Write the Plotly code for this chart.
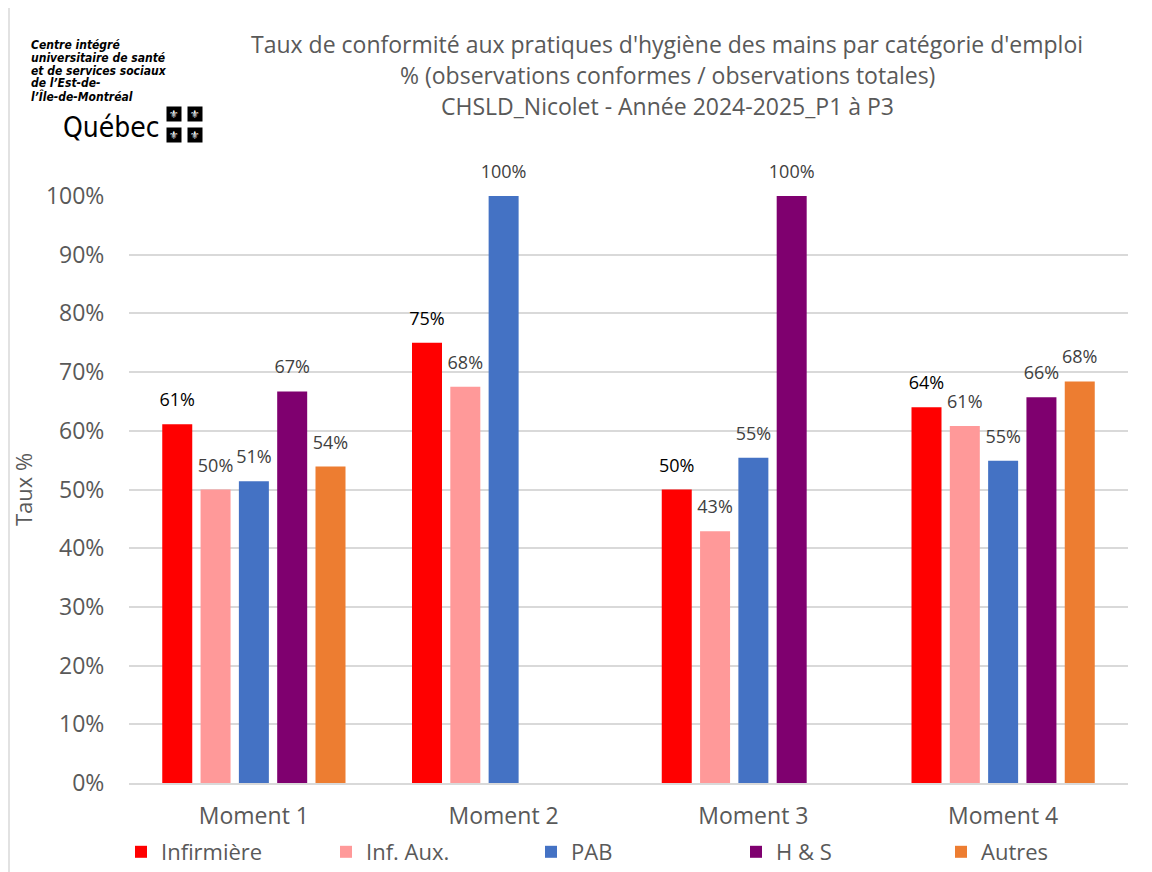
import plotly.graph_objects as go

# Données
moments = ['Moment 1', 'Moment 2', 'Moment 3', 'Moment 4']
infirmiere = [0.611, 0.750, 0.500, 0.640]
inf_aux = [0.500, 0.675, 0.429, 0.608]
pab = [0.514, 1.000, 0.554, 0.549]
h_s = [0.667, None, 1.000, 0.657]
autres = [0.539, None, None, 0.684]

series = [
    ('Infirmière', infirmiere, '#FF0000', '#000000'),
    ('Inf. Aux.', inf_aux, '#FF9999', '#404040'),
    ('PAB', pab, '#4472C4', '#404040'),
    ('H & S', h_s, '#7F006F', '#404040'),
    ('Autres', autres, '#ED7D31', '#404040'),
]

title_lines = [
    "Taux de conformité aux pratiques d'hygiène des mains par catégorie d'emploi",
    "% (observations conformes / observations totales)",
    "CHSLD_Nicolet - Année 2024-2025_P1 à P3",
]
logo_lines = [
    "Centre intégré",
    "universitaire de santé",
    "et de services sociaux",
    "de l’Est-de-",
    "l’Île-de-Montréal",
]

FONT = 'Open Sans, Lato, sans-serif'
LOGO_FONT = 'Liberation Sans Narrow, DejaVu Sans Condensed, sans-serif'
GREY = '#595959'

# la page html ajoute 8px de marge au body
OFF = 8
W, H = 1152 - OFF, 872 - OFF
# zone de tracé (pixels de l'écran)
SL, SR, ST, SB = 129, 1128, 196, 783


def px_x(p):
    return (p - SL) / (SR - SL)


def px_y(p):
    return (SB - p) / (SB - ST)


fig = go.Figure()

for name, vals, color, lab_color in series:
    fig.add_trace(go.Bar(
        x=moments, y=vals, name=name,
        marker=dict(color=color, line=dict(width=0)),
        offsetgroup=name,
    ))

# étiquettes de données (groupées comme les barres)
for name, vals, color, lab_color in series:
    fig.add_trace(go.Scatter(
        x=moments, y=vals, name=name,
        mode='markers+text',
        marker=dict(size=20, color='rgba(0,0,0,0)'),
        text=[None if v is None else f'{round(v * 100)}%' for v in vals],
        textposition='top center',
        textfont=dict(family=FONT, size=18, color=lab_color),
        offsetgroup=name,
        showlegend=False,
        cliponaxis=False,
        hoverinfo='skip',
    ))

annotations = []
title_y = [44, 75, 106]
for line, y in zip(title_lines, title_y):
    annotations.append(dict(
        text=line, xref='paper', yref='paper',
        x=px_x(667), y=px_y(y), xanchor='center', yanchor='middle',
        showarrow=False, font=dict(family=FONT, size=23, color=GREY),
    ))

for i, line in enumerate(logo_lines):
    annotations.append(dict(
        text=line, xref='paper', yref='paper',
        x=px_x(29), y=px_y(45 + i * 12.8), xanchor='left', yanchor='middle',
        showarrow=False,
        font=dict(family=LOGO_FONT, size=12, color='#000000',
                  weight='bold', style='italic'),
    ))

annotations.append(dict(
    text='Québec', xref='paper', yref='paper',
    x=px_x(61), y=px_y(128), xanchor='left', yanchor='middle',
    showarrow=False,
    font=dict(family=LOGO_FONT, size=28, color='#000000'),
))

for cx in (174, 195):
    for cy in (114, 135):
        annotations.append(dict(
            text='⚜', xref='paper', yref='paper',
            x=px_x(cx), y=px_y(cy), xanchor='center', yanchor='middle',
            showarrow=False, bgcolor='#000000', width=14, height=14,
            borderpad=0, font=dict(family='DejaVu Sans', size=11, color='#FFFFFF'),
        ))

fig.update_layout(
    width=W, height=H,
    margin=dict(l=SL - OFF, r=W - (SR - OFF), t=ST - OFF, b=H - (SB - OFF),
                autoexpand=False),
    paper_bgcolor='white', plot_bgcolor='white',
    barmode='group', bargap=0.233, bargroupgap=0.217,
    scattermode='group', scattergap=0.233,
    font=dict(family=FONT, color=GREY),
    xaxis=dict(
        showline=True, linecolor='#D9D9D9', linewidth=1.5,
        showgrid=False, ticks='outside', ticklen=12, tickcolor='rgba(0,0,0,0)',
        tickfont=dict(family=FONT, size=23, color=GREY),
    ),
    yaxis=dict(
        range=[0, 1], tickformat='.0%', dtick=0.1,
        showgrid=True, gridcolor='#D9D9D9', gridwidth=1.5,
        zeroline=False, showline=False,
        ticks='outside', ticklen=19, tickcolor='rgba(0,0,0,0)',
        tickfont=dict(family=FONT, size=23, color=GREY),
        title=dict(text='Taux %', font=dict(family=FONT, size=22, color=GREY), standoff=8),
    ),
    legend=dict(
        orientation='h',
        x=px_x(121), y=px_y(852), xanchor='left', yanchor='middle',
        font=dict(family=FONT, size=22, color=GREY),
        entrywidth=160, entrywidthmode='pixels',
        itemclick=False, traceorder='normal',
    ),
    annotations=annotations,
    shapes=[dict(
        type='line', xref='paper', yref='paper',
        x0=px_x(9), x1=px_x(9), y0=px_y(OFF), y1=px_y(872),
        line=dict(color='#D9D9D9', width=1.5),
    )],
    showlegend=True,
)

fig.write_html('out.html')
